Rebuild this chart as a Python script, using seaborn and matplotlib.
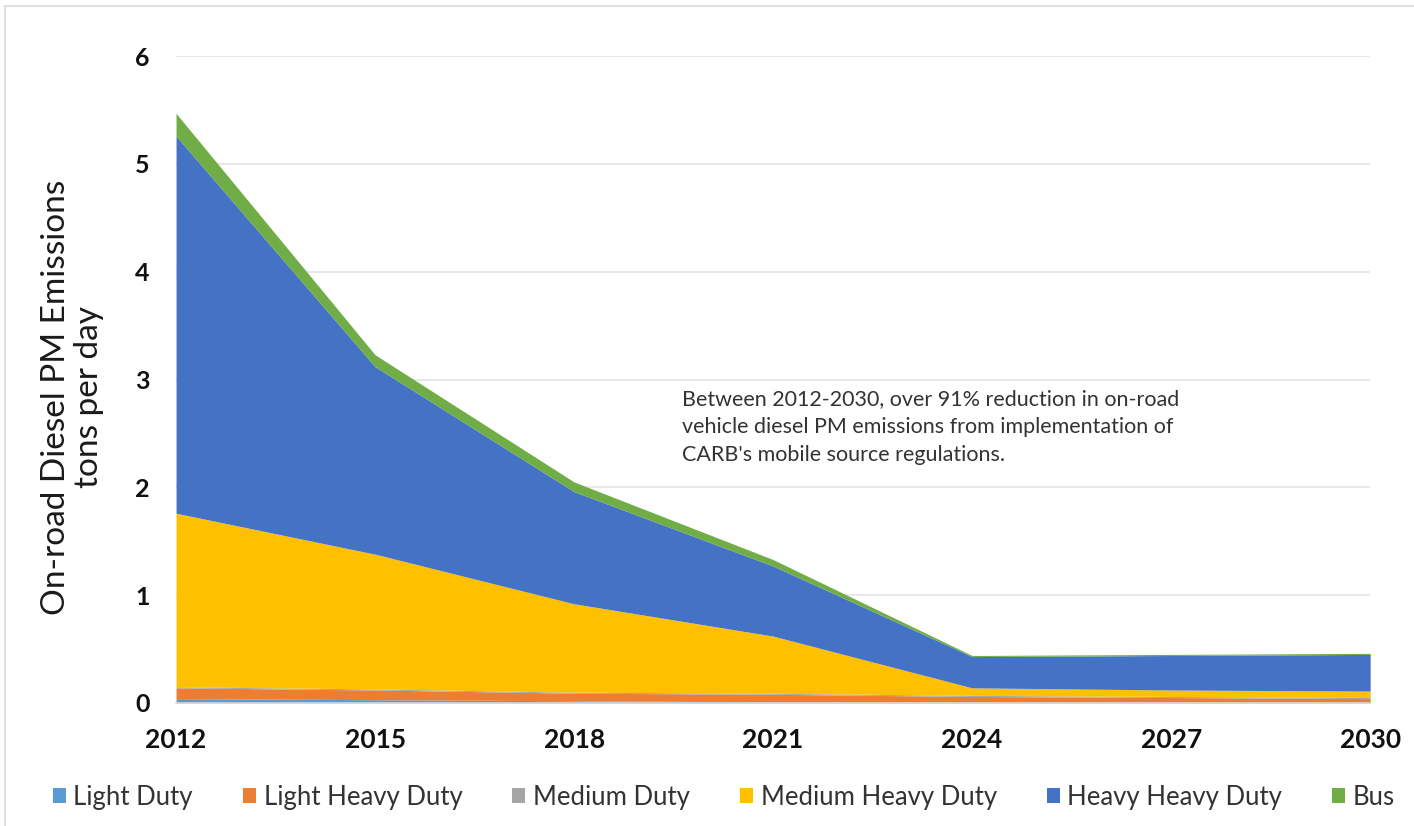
import matplotlib
matplotlib.use("Agg")
import matplotlib.pyplot as plt
import seaborn as sns
from matplotlib.lines import Line2D
from matplotlib.patches import Patch

years = ["2012", "2015", "2018", "2021", "2024", "2027", "2030"]
light_duty = [0.04, 0.03, 0.02, 0.01, 0.005, 0.005, 0.005]
light_heavy_duty = [0.10, 0.09, 0.07, 0.07, 0.055, 0.045, 0.035]
medium_duty = [0.01, 0.01, 0.01, 0.01, 0.01, 0.01, 0.01]
medium_heavy_duty = [1.61, 1.25, 0.82, 0.53, 0.07, 0.06, 0.06]
heavy_heavy_duty = [3.50, 1.74, 1.04, 0.65, 0.29, 0.32, 0.34]
bus = [0.21, 0.11, 0.09, 0.06, 0.01, 0.01, 0.01]

labels = ["Light Duty", "Light Heavy Duty", "Medium Duty",
          "Medium Heavy Duty", "Heavy Heavy Duty", "Bus"]
colors = ["#5B9BD5", "#ED7D31", "#A5A5A5", "#FFC000", "#4472C4", "#70AD47"]

sns.set_theme(style="white")
plt.rcParams["font.family"] = ["Lato", "DejaVu Sans"]

fig = plt.figure(figsize=(14.14, 8.26), dpi=100)
ax = fig.add_axes([0.1245, 0.149, 0.8445, 0.783])

x = list(range(len(years)))
ax.stackplot(x, light_duty, light_heavy_duty, medium_duty, medium_heavy_duty,
             heavy_heavy_duty, bus, colors=colors, linewidth=0)

ax.set_xlim(0, len(years) - 1)
ax.set_ylim(0, 6)
ax.set_yticks(range(0, 7))
ax.set_xticks(x)
ax.set_xticklabels(years)
ax.yaxis.grid(True, color="#e6e6e6", linewidth=1.3)
ax.set_axisbelow(True)
for s in ["top", "right", "left"]:
    ax.spines[s].set_visible(False)
ax.spines["bottom"].set_color("#d9d9d9")
ax.spines["bottom"].set_linewidth(1.2)
ax.tick_params(axis="x", length=6, color="#d9d9d9", width=1.2, pad=12, labelsize=19)
ax.tick_params(axis="y", length=0, pad=19, labelsize=18)
for t in ax.get_xticklabels() + ax.get_yticklabels():
    t.set_fontweight("bold")
    t.set_color("#111111")

ax.set_ylabel("On-road Diesel PM Emissions\ntons per day", fontsize=24,
              color="#1a1a1a", linespacing=1.15)
ax.yaxis.set_label_coords(-0.06, 0.473)

ax.text(0.424, 0.485,
        "Between 2012-2030, over 91% reduction in on-road\n"
        "vehicle diesel PM emissions from implementation of\n"
        "CARB's mobile source regulations.",
        transform=ax.transAxes, fontsize=15.5, color="#333333",
        va="top", ha="left", linespacing=1.5)

handles = [Patch(facecolor=c, edgecolor="none") for c in colors]
fig.legend(handles, labels, loc="center", bbox_to_anchor=(0.512, 0.035),
           ncol=6, frameon=False, fontsize=18.5, handlelength=0.5,
           handleheight=0.5, handletextpad=0.3, columnspacing=1.95,
           labelcolor="#333333", borderpad=0)

# thin light border at top and left like the screenshot frame
fig.add_artist(Line2D([0.0035, 1], [0.993, 0.993], transform=fig.transFigure,
                      color="#e0e0e0", linewidth=1.5))
fig.add_artist(Line2D([0.0035, 0.0035], [0, 0.993], transform=fig.transFigure,
                      color="#e0e0e0", linewidth=1.5))

fig.savefig("out.png", dpi=100)
